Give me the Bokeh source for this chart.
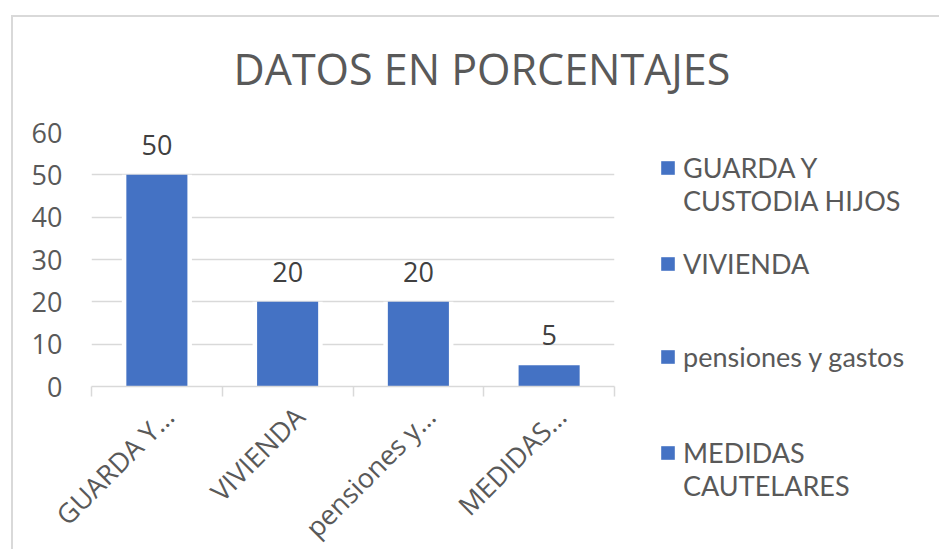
import math
from bokeh.plotting import figure
from bokeh.models import ColumnDataSource, Range1d, FixedTicker, Legend, LegendItem
from bokeh.core.properties import value
from bokeh.embed import file_html
from bokeh.resources import INLINE

# ---- data ----
categories = ["GUARDA Y CUSTODIA HIJOS", "VIVIENDA", "pensiones y gastos", "MEDIDAS CAUTELARES"]
values = [50, 20, 20, 5]
tick_labels = ["GUARDA Y…", "VIVIENDA", "pensiones y…", "MEDIDAS…"]
legend_labels = ["\nGUARDA Y\nCUSTODIA HIJOS", "VIVIENDA", "pensiones y gastos", "\nMEDIDAS\nCAUTELARES"]
y_ticks = [0, 10, 20, 30, 40, 50, 60]
title_text = "DATOS EN PORCENTAJES"

FONT = "Open Sans"
LEG_FONT = "Lato"
TXT = "#595959"
BLUE = "#4472C4"
GRID = "#d9d9d9"

idx = list(range(len(categories)))
src = ColumnDataSource(dict(x=idx, top=values, cat=categories, lbl=[str(v) for v in values]))

# rotated category labels sit slightly right of the bar centre (as in the original)
LABEL_SHIFT = 0.09
label_ticks = [i + LABEL_SHIFT for i in idx]

p = figure(frame_width=523, frame_height=254,
           x_range=Range1d(-0.5, len(categories) - 0.5), y_range=Range1d(0, 60),
           output_backend="svg", toolbar_location=None,
           min_border_left=91, min_border_right=317, min_border_top=132, min_border_bottom=155)
p.outline_line_color = None
p.background_fill_color = "white"
p.border_fill_color = None
# light chart-area border (left and top edges) drawn as the element's background
p.styles = {
    "background-color": "white",
    "background-image": "linear-gradient(#d9d9d9, #d9d9d9), linear-gradient(#d9d9d9, #d9d9d9)",
    "background-position": "11px 15px, 11px 15px",
    "background-size": "2px 100%, 100% 2px",
    "background-repeat": "no-repeat",
}

p.title.text = title_text
p.title.align = "left"
p.title.offset = 142
p.title.standoff = 70
p.title.text_font = FONT
p.title.text_font_size = "43px"
p.title.text_font_style = "normal"
p.title.text_color = TXT

p.xgrid.grid_line_color = None
p.ygrid.grid_line_color = GRID
p.ygrid.grid_line_width = 1.5
p.ygrid.ticker = FixedTicker(ticks=y_ticks)

ya = p.yaxis[0]
ya.ticker = FixedTicker(ticks=y_ticks)
ya.axis_line_color = None
ya.major_tick_line_color = None
ya.major_tick_out = 0
ya.major_tick_in = 0
ya.minor_tick_line_color = None
ya.major_label_standoff = 29
ya.major_label_text_font = FONT
ya.major_label_text_font_size = "27px"
ya.major_label_text_color = TXT

xa = p.xaxis[0]
xa.ticker = FixedTicker(ticks=label_ticks, minor_ticks=[i - 0.5 for i in range(len(categories) + 1)])
xa.major_label_overrides = {label_ticks[i]: tick_labels[i] for i in idx}
xa.major_tick_line_color = None
xa.major_tick_out = 0
xa.major_tick_in = 0
xa.minor_tick_line_color = GRID
xa.minor_tick_line_width = 1.5
xa.minor_tick_in = 0
xa.minor_tick_out = 10
xa.axis_line_color = GRID
xa.axis_line_width = 1.5
xa.major_label_orientation = math.pi / 4
xa.major_label_standoff = 15
xa.major_label_text_font = FONT
xa.major_label_text_font_size = "27px"
xa.major_label_text_color = TXT

# white halo that interrupts the gridlines around each bar
p.vbar(x="x", top="top", width=0.536, source=src, fill_color="white", line_color=None)
bars = p.vbar(x="x", top="top", width=0.467, source=src, fill_color=BLUE, line_color=None)

p.text(x="x", y="top", text="lbl", source=src, text_align="center",
       text_baseline="alphabetic", y_offset=-30, text_font=value(FONT),
       text_font_size="27px", text_color="#404040")

legend = Legend(items=[LegendItem(label=legend_labels[i], renderers=[bars], index=i) for i in idx],
                location=(45, -116), glyph_width=17, glyph_height=17, label_standoff=7,
                spacing=0, label_height=93, padding=0, margin=0,
                border_line_color=None, background_fill_alpha=0,
                label_text_font=LEG_FONT, label_text_font_size="27px", label_text_color=TXT,
                label_text_line_height=1.2)
p.add_layout(legend, "right")

open("out.html", "w").write(file_html(p, INLINE))
